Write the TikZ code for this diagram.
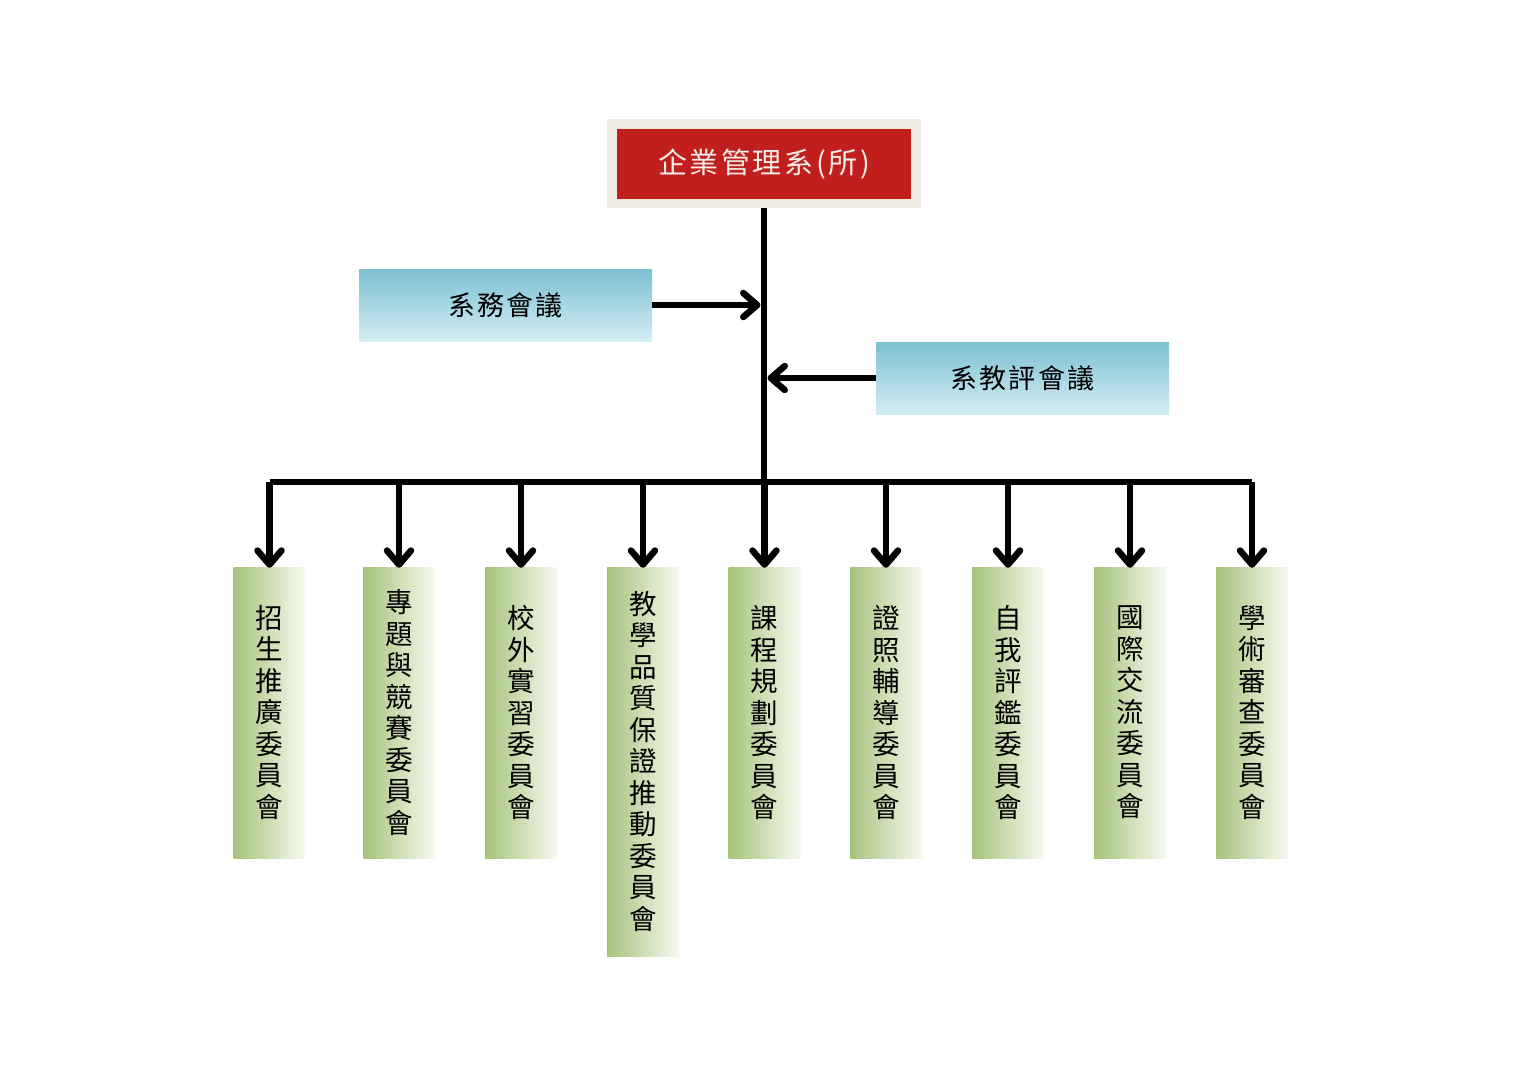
\documentclass[tikz,border=0pt]{standalone}
\usepackage{fontspec}
\newfontfamily\cjk{Noto Sans CJK TC}
\newfontfamily\cjkwide{Noto Sans CJK TC}[LetterSpace=9]
\newfontfamily\cjkmid{Noto Sans CJK TC}[LetterSpace=8]
\usetikzlibrary{arrows.meta}
\definecolor{framebeige}{HTML}{EFEBE4}
\definecolor{boxred}{HTML}{C01F1E}
\definecolor{toptext}{HTML}{F6EEE6}
\definecolor{bluetop}{HTML}{7DC0D2}
\definecolor{bluebot}{HTML}{D4EDF3}
\definecolor{greenleft}{HTML}{A6C27C}
\definecolor{greenright}{HTML}{F7FAF0}
\tikzset{
  link/.style={line width=6.5pt, line join=round},
  arr/.style={link, -{Straight Barb[round, length=14pt, width=24pt]}},
  bluebox/.style={top color=bluetop, bottom color=bluebot, draw=none,
    minimum width=293pt, minimum height=72pt, inner sep=0pt,
    font=\cjkmid\fontsize{27}{27}\selectfont},
  greenbox/.style={left color=greenleft, right color=greenright, draw=none,
    minimum width=72pt, inner sep=0pt, align=center,
    font=\cjk\fontsize{27.5}{31.5}\selectfont},
}
\begin{document}
\begin{tikzpicture}[x=1pt,y=-1pt]
\useasboundingbox[fill=white] (0,0) rectangle (1521,1076);

% top box
\node[draw=framebeige, line width=9.5pt, fill=boxred, text=toptext,
      minimum width=304pt, minimum height=79.5pt, inner sep=0pt,
      font=\cjkwide\fontsize{29}{29}\selectfont] (top) at (764,163.75) {\raisebox{-3pt}{企業管理系(所)}};

% side boxes
\node[bluebox] (meet1) at (505.5,305) {系務會議};
\node[bluebox] (meet2) at (1022.5,378) {系教評會議};

% committees
\node[greenbox, minimum height=291pt] (c1) at (269.5,712.5) {招\\生\\推\\廣\\委\\員\\會};
\node[greenbox, minimum height=291pt] (c2) at (399,712.5) {專\\題\\與\\競\\賽\\委\\員\\會};
\node[greenbox, minimum height=291pt] (c3) at (521,712.5) {校\\外\\實\\習\\委\\員\\會};
\node[greenbox, minimum height=389pt] (c4) at (643,761.5) {教\\學\\品\\質\\保\\證\\推\\動\\委\\員\\會};
\node[greenbox, minimum height=291pt] (c5) at (764.5,712.5) {課\\程\\規\\劃\\委\\員\\會};
\node[greenbox, minimum height=291pt] (c6) at (886,712.5) {證\\照\\輔\\導\\委\\員\\會};
\node[greenbox, minimum height=291pt] (c7) at (1008,712.5) {自\\我\\評\\鑑\\委\\員\\會};
\node[greenbox, minimum height=291pt] (c8) at (1130,712.5) {國\\際\\交\\流\\委\\員\\會};
\node[greenbox, minimum height=291pt] (c9) at (1252,712.5) {學\\術\\審\\查\\委\\員\\會};

% connectors
\coordinate (bar) at (764,482);
\draw[link] (top.south) -- (bar);
\coordinate (j1) at (764,305);
\coordinate (j2) at (764,378);
\draw[arr, shorten >=3.5pt] (meet1.east) -- (j1);
\draw[arr, shorten >=3.5pt] (meet2.west) -- (j2);
\draw[link] (c1.north |- bar) -- (c9.north |- bar);
\foreach \c in {c1,c2,c3,c4,c5,c6,c7,c8,c9}
  \draw[arr] (\c.north |- bar) -- ([yshift=-1pt]\c.north);
\end{tikzpicture}
\end{document}
